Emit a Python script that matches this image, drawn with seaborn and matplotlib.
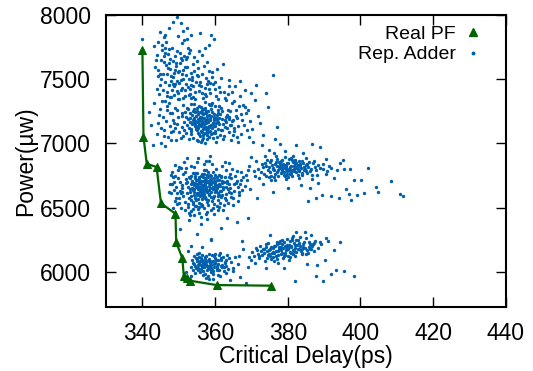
import matplotlib
matplotlib.use("Agg")
import matplotlib.pyplot as plt
import pandas as pd
import seaborn as sns
from matplotlib.lines import Line2D

# ---------------- data ----------------
pf_delay = [340.0, 340.3, 341.2, 343.9, 345.1, 349.1, 349.3, 351.0, 351.4, 352.2, 353.1, 360.4, 375.5]
pf_power = [7727, 7049, 6841, 6815, 6534, 6451, 6229, 6104, 5963, 5953, 5930, 5896, 5891]

cluster_upper_core = [(356.2,7142),(358.9,7210),(353.4,7095),(360.7,7168),(355.1,7251),(357.8,7033),(352.6,7188),(361.9,7102),(354.3,7305),(359.4,7077),(356.8,7266),(350.9,7130),(363.2,7219),(357.1,7001),(355.7,7174),(358.3,7128),(353.9,7042),(360.1,7289),(362.4,7061),(354.8,7213),(357.5,7156),(351.7,7247),(359.8,7184),(356.4,7088),(361.3,7232),(355.2,7019),(358.6,7301),(353.1,7163),(364.1,7145),(357.9,7107),(354.6,7136),(360.4,7051),(352.3,7279),(356.9,7198),(359.1,7243),(355.5,7071),(362.8,7181),(357.3,7322),(351.2,7056),(358.1,7169),(353.7,7221),(360.9,7114),(356.1,7009),(354.1,7264),(359.6,7137),(357.6,7255),(363.7,7092),(355.9,7186),(352.8,7118),(361.6,7273),(358.4,7048),(356.6,7229),(354.4,7172),(360.2,7199),(357.2,7083),(353.3,7310),(359.3,7158),(355.3,7122),(362.1,7036),(358.8,7271),(351.9,7204),(356.3,7160),(361.1,7151),(354.9,7027),(357.7,7191),(359.9,7093),(353.6,7147),(363.5,7258),(356.7,7111),(355.6,7294),(360.6,7224),(358.2,7139),(352.1,7080),(357.4,7238),(354.2,7196),(361.4,7067),(356.5,7177),(359.2,7315),(355.8,7054),(358.7,7181),(353.8,7253),(362.6,7126),(357.0,7148),(360.3,7012),(354.7,7109),(356.0,7283),(351.4,7166),(359.7,7206),(358.5,7099),(355.4,7230),(361.8,7187),(357.8,7064),(353.2,7200),(356.9,7131),(364.6,7175),(355.0,7167),(360.8,7262),(358.0,7118),(352.4,7143),(357.3,7277),(359.5,7045),(354.5,7246),(356.2,7094),(362.9,7209),(355.6,7153),(358.4,7224),(353.5,7072),(360.0,7134),(357.6,7183),(351.0,7212),(356.8,7040),(359.0,7297),(354.0,7159),(361.5,7104),(357.1,7240),(355.3,7190),(358.9,7076),(363.0,7168),(356.4,7257),(352.9,7031),(360.5,7179),(357.9,7212),(354.8,7125),(359.4,7162),(356.0,7135),(361.2,7293),(355.8,7204),(358.1,7087),(353.0,7236),(357.5,7115),(360.7,7240),(356.6,7068),(354.3,7180),(362.3,7150),(358.6,7196),(355.1,7101),(359.8,7227),(357.2,7171),(352.5,7265),(356.1,7209),(360.1,7078),(354.6,7152),(358.3,7304),(365.2,7121),(357.4,7129),(355.9,7241),(361.0,7201),(353.4,7115),(358.0,7250),(356.3,7024),(359.6,7186),(354.9,7274),(357.7,7097),(362.0,7255),(355.4,7137),(360.2,7157),(356.7,7195),(358.8,7146),(353.9,7182),(357.0,7268),(363.8,7202),(355.2,7082),(359.1,7119),(356.5,7233)]

cluster_upper_top = [(348.2,7412),(353.5,7356),(345.7,7538),(356.1,7447),(350.4,7623),(343.9,7689),(352.8,7501),(358.7,7392),(347.3,7734),(351.6,7368),(355.2,7584),(349.0,7462),(346.5,7611),(354.4,7345),(350.9,7780),(357.6,7510),(344.8,7452),(352.1,7659),(348.8,7547),(360.3,7371),(353.0,7426),(346.1,7703),(349.7,7395),(355.8,7476),(351.2,7569),(343.4,7592),(347.9,7488),(353.8,7620),(350.1,7345),(345.3,7765),(357.1,7433),(352.5,7741),(348.5,7642),(354.9,7531),(346.9,7403),(351.9,7463),(359.2,7552),(349.4,7716),(344.2,7521),(353.2,7384),(347.6,7580),(356.6,7357),(350.6,7495),(345.0,7652),(352.3,7597),(348.0,7359),(354.1,7672),(351.4,7809),(346.2,7477),(357.9,7461),(349.9,7555),(343.1,7760),(353.6,7519),(347.1,7698),(355.5,7411),(350.8,7432),(344.6,7381),(352.7,7707),(348.3,7460),(361.1,7438),(351.0,7651),(346.7,7544),(354.6,7398),(349.2,7605),(345.5,7726),(352.0,7530),(356.9,7599),(348.6,7376),(350.3,7707),(353.3,7458),(347.4,7627),(344.4,7575),(351.7,7413),(355.0,7641),(349.6,7488),(346.4,7790),(358.3,7422),(350.0,7561),(352.9,7375),(347.8,7523),(345.8,7412),(354.3,7563),(349.1,7683),(351.3,7503),(356.3,7390),(348.1,7746),(353.9,7444),(346.0,7635),(350.7,7414),(343.7,7648),(352.2,7669),(347.2,7456),(355.4,7527),(349.8,7346),(351.8,7593),(345.2,7500),(357.4,7366),(348.9,7571),(353.1,7729),(346.8,7367),(350.5,7666),(354.7,7480),(352.6,7436),(344.9,7544),(349.3,7629),(358.0,7487),(347.5,7661),(351.1,7357),(355.7,7453),(348.4,7520),(353.4,7550),(346.3,7739),(350.2,7470),(362.5,7403),(352.4,7815),(347.0,7588),(345.9,7683),(354.0,7361),(349.5,7406),(356.4,7542),(351.5,7682),(348.7,7445),(353.7,7492),(344.1,7420),(350.8,7540),(359.5,7463),(347.7,7363),
    (349.4,7982),(348.3,7948),(340.0,7810),(344.8,7870),(344.4,7792),(352.2,7896),(353.4,7844),(358.8,7844),(358.4,7766),(351.3,7873),(346.2,7841),(355.9,7862),(349.9,7836),(347.4,7901),(350.7,7935),(359.6,7815),(345.9,7827)]

cluster_upper_edges = [(343.2,7312),(345.6,7205),(342.5,7146),(347.1,7052),(344.8,7268),(348.3,7183),(346.0,7101),(341.9,7241),(349.2,7026),(343.9,7069),(346.7,7294),(348.9,7121),(345.1,7003),(342.8,6989),(347.7,7234),(344.2,7160),(349.6,7263),(346.3,6978),(348.0,7089),(345.4,7327),
    (364.7,7312),(367.2,7228),(369.8,7393),(366.1,7051),(372.4,7158),(365.5,7447),(368.9,7106),(374.6,7283),(366.8,7366),(370.5,7011),(363.9,7491),(371.8,7210),(367.7,7302),(375.8,7532),(365.0,7178),(369.1,7257),(373.3,7068),(364.3,7023),(368.3,7419),(376.9,7124),(366.4,7137),(370.9,7339),(365.8,7262),(372.8,6987),(367.5,7182),(363.6,7385),(371.2,7456),(369.4,7051),(366.9,7482),(374.1,7391)]

cluster_upper_fill = [(346.4,7173),(348.1,7236),(350.2,7089),(347.3,7312),(349.5,7150),(345.2,7119),(351.1,7300),(347.9,7025),(349.9,7207),(346.8,7258),(350.6,7044),(348.6,7160),(344.6,7221),(351.5,7103),(347.6,7137),(349.1,7279),(345.9,7057),(350.8,7239),(348.4,7096),(346.1,7331),
    (363.4,7117),(365.7,7215),(364.9,7062),(366.6,7291),(363.1,7336),(367.9,7146),(365.3,7096),(368.5,7238),(364.0,7250),(366.3,7008),(369.6,7172),(363.8,7189),(367.1,7071),(365.1,7327),(370.2,7108),(364.5,7140),(368.1,7281),(366.0,7199),
    (357.2,7386),(359.9,7425),(361.6,7512),(358.5,7468),(362.8,7356),(360.5,7577),(357.8,7631),(363.9,7445),(359.1,7519),(356.5,7689),(361.3,7402),(358.2,7563),(360.8,7344),(364.6,7398),(357.3,7742),(362.1,7620),(355.6,7718),(360.0,7475)]

cluster_mid_core = [(357.3,6672),(354.8,6711),(360.2,6634),(356.1,6598),(362.4,6702),(353.7,6655),(358.9,6748),(355.4,6569),(361.1,6681),(357.8,6620),(352.9,6735),(359.6,6590),(356.6,6704),(363.5,6647),(354.2,6623),(358.1,6779),(360.8,6556),(355.9,6658),(357.1,6727),(353.3,6588),(361.7,6741),(356.4,6642),(359.2,6699),(354.5,6766),(362.9,6609),(357.6,6565),(355.1,6686),(360.5,6715),(352.4,6697),(358.4,6636),(356.9,6792),(363.9,6683),(354.0,6543),(359.9,6664),(357.0,6604),(355.6,6740),(361.4,6628),(353.1,6618),(358.7,6693),(356.2,6531),(360.0,6757),(354.9,6679),(362.1,6662),(357.4,6716),(355.3,6613),(359.4,6576),(352.6,6662),(358.0,6703),(364.4,6727),(356.7,6668),(361.0,6595),(354.4,6730),(357.9,6545),(355.8,6632),(360.3,6676),(353.6,6704),(359.0,6620),(356.3,6761),(362.6,6572),(358.6,6654),(355.0,6597),(357.2,6689),(361.8,6707),(354.1,6642),(359.7,6733),(356.8,6573),(353.9,6772),(360.6,6649),(357.5,6638),(355.5,6702),(363.2,6691),(358.3,6596),(352.2,6613),(356.0,6680),(359.3,6777),(354.7,6557),(361.3,6665),(357.7,6751),(355.2,6646),(360.9,6611),(353.4,6684),(358.8,6723),(356.5,6617),(362.8,6739),(354.6,6694),(359.8,6643),(357.3,6582),(355.7,6720),(361.6,6583),(353.0,6727),(358.2,6670),(356.9,6644),(360.1,6701),(354.3,6599),(363.7,6624),(357.0,6761),(355.4,6663),(359.1,6552),(352.7,6576),(358.5,6715),(356.1,6706),(361.9,6689),(354.8,6658),(357.8,6627),(360.4,6739),(355.9,6587),(353.8,6639),(359.5,6697),(356.6,6735),(362.3,6643),(358.0,6562),(354.0,6691),(357.4,6649),(360.7,6587),(355.1,6770),(356.3,6618),(361.2,6717),(353.5,6561),(358.9,6681),(357.1,6703),(359.9,6619),(354.5,6745),(363.0,6663),(356.0,6654),(355.6,6537),(360.0,6687),(357.6,6796),(352.1,6723),(358.4,6605),(356.8,6677),(361.5,6744),(354.9,6615),(359.3,6661),(357.2,6733),(355.3,6685),(362.0,6597),(353.2,6644),(358.7,6755),(356.4,6569),(360.3,6632),(357.9,6698),(354.2,6672),(359.6,6710),(355.8,6653),(361.6,6629),(356.7,6600),(358.1,6739),(353.7,6696),(363.3,6706),(357.0,6627),(355.0,6716),(359.0,6584),(356.2,6748),(360.8,6670),(354.6,6578),(358.3,6692),(357.5,6662),(361.0,6752),(355.5,6607),(353.3,6749),(359.4,6641)]

cluster_mid_edges = [(349.2,6663),(351.4,6852),(348.3,6741),(364.8,6523),(350.6,6498),(366.1,6781),(352.3,6884),(347.9,6612),(355.7,6461),(362.7,6857),(350.1,6577),(358.6,6903),(365.3,6632),(353.4,6472),(349.7,6789),(360.9,6477),(351.8,6541),(367.2,6712),(356.9,6836),(348.6,6700),(363.6,6536),(354.1,6817),(350.4,6626),(359.8,6452),(352.6,6502),(366.7,6599),(357.4,6866),(349.9,6728),(361.8,6823),(353.0,6442),(364.2,6765),(351.0,6621),(355.3,6885),(348.9,6554),(362.2,6483),(357.0,6496),(350.7,6806),(365.8,6688),(352.9,6461),(359.1,6841),(347.5,6682),(354.6,6508),(360.5,6511),(351.3,6760),(363.1,6791),(356.2,6429),(349.4,6611),(358.3,6865),(353.8,6527),(366.4,6662),(350.0,6534),(361.4,6538),(355.0,6852),(348.1,6778),(357.8,6468),(352.0,6808),(364.5,6583),(359.4,6498),(353.5,6824),(351.6,6478),(362.9,6560),(356.5,6512),(349.0,6834),(360.2,6802),(354.3,6445),(367.8,6741),(350.9,6678),(358.0,6517),(363.9,6850),(355.5,6502),
    (353.9,6489),(356.3,6521),(358.8,6483),(361.0,6502),(354.7,6515),(357.5,6453),(359.7,6530),(355.2,6486),(362.5,6517),(352.5,6530),
    (352.8,6402),(359.0,6255),(356.1,6371),(363.3,6418),(350.4,6335),(365.9,6384),(354.9,6297),(369.1,6420),(361.6,6340),(357.7,6409)]

cluster_mid_fill = [(348.7,6635),(350.3,6702),(347.8,6751),(351.2,6588),(349.6,6525),(350.8,6654),(348.2,6684),(351.7,6779),(349.3,6571),(350.0,6818),(347.2,6624),(351.9,6690),(349.0,6743),(350.5,6613),(348.5,6500),
    (364.1,6652),(366.0,6706),(365.0,6571),(367.4,6640),(364.7,6801),(366.9,6687),(365.6,6748),(368.3,6670),(364.3,6612),(366.2,6547),(367.0,6776),(365.2,6680),(368.8,6718),(363.8,6741),(366.5,6621)]

cluster_right = [(379.6,6812),(382.3,6845),(376.1,6790),(384.7,6803),(378.2,6861),(381.0,6768),(373.9,6827),(386.1,6782),(380.4,6879),(377.3,6748),(383.5,6822),(375.2,6858),(379.0,6775),(385.3,6836),(381.8,6800),(374.6,6794),(378.7,6838),(387.4,6814),(382.9,6753),(376.8,6903),(380.8,6827),(372.5,6773),(384.0,6866),(379.3,6744),(377.7,6815),(383.1,6789),(375.7,6832),(381.4,6856),(386.8,6757),(378.5,6796),(374.3,6869),(382.6,6818),(380.1,6735),(376.4,6764),(385.8,6851),(379.8,6849),(373.1,6812),(383.8,6771),(377.0,6881),(381.2,6792),(388.2,6828),(375.5,6743),(379.5,6829),(382.0,6874),(378.0,6769),(384.4,6815),(376.6,6840),(380.6,6761),(374.0,6746),(383.3,6841),(377.9,6806),(381.6,6823),(386.4,6801),(379.1,6891),(375.9,6803),(382.4,6778),(378.9,6752),(373.6,6844),(385.0,6787),(380.3,6803),(376.9,6824),(383.9,6756),(379.7,6787),(371.9,6801),(381.9,6838),(377.5,6857),(384.9,6829),(378.4,6783),(382.7,6799),(375.0,6779),(380.0,6846),(387.9,6790),(376.3,6735),(383.0,6862),(379.2,6820),(374.8,6815),(381.3,6745),(385.6,6817),(377.8,6841),(380.7,6784),(373.4,6759),(382.2,6810),(378.3,6874),(384.2,6843),(376.0,6810),(379.9,6765),(386.9,6845),(381.1,6873),(375.4,6871),(383.6,6805),(377.1,6777),(380.5,6818),(388.9,6808),(378.8,6808),(382.8,6832),(374.9,6737),(381.7,6781),(376.7,6851),(385.2,6770),(379.4,6798),(372.8,6838),(383.2,6783),(377.4,6791),(380.9,6889),(384.6,6796),(378.1,6823),(376.5,6718),(382.1,6860),(370.8,6786),(379.0,6833),
    (369.4,6822),(371.3,6860),(368.6,6755),(370.0,6890),(372.2,6731),(389.6,6842),(390.8,6788),(387.2,6866),(391.9,6809),(373.8,6905),(376.2,6926),(385.1,6884),(388.0,6752),(371.0,6745),(369.0,6795),(386.6,6725),(383.1,6730),(379.6,6725),(375.3,6712),(381.5,6905),
    (402.0,6805),(408.5,6705),(410.8,6609),(411.7,6590),(404.7,6620),(404.4,6659),(400.9,6615),(400.2,6716),(398.1,6716),(399.0,6594),(397.5,6555),(396.8,6607),(396.1,6646),(394.1,6573),(392.0,6586),(389.3,6599),(385.6,6547),(387.9,6576),(395.6,6797),(397.0,6802),(395.2,6867),(394.5,6846),(390.6,6875),(389.0,6971),(386.8,6997),(382.4,6990),(379.2,6940),(376.4,7037),(377.8,6997),(390.5,6760),(392.6,6733),(388.4,6688),(391.3,6822),(386.2,6652),(383.6,6678),(380.1,6655),(376.0,6623),(373.2,6680),(371.5,6574),(369.7,6644),(393.5,6795),(389.8,6803),(384.1,6921),(374.7,6952)]

cluster_low_left = [(358.4,6041),(356.1,6083),(361.2,6012),(354.7,6027),(359.9,6105),(357.3,5986),(362.8,6064),(355.5,6117),(360.4,6048),(358.0,5963),(356.9,6072),(363.6,6021),(354.2,6061),(359.2,6133),(357.7,6016),(361.7,6089),(355.9,5998),(358.8,6078),(360.9,5975),(353.6,6092),(357.0,6049),(362.2,6118),(356.3,6035),(359.5,6002),(354.9,6141),(361.5,6043),(358.2,6099),(355.2,6056),(363.1,5991),(357.5,6124),(360.1,6069),(356.6,5975),(359.0,6054),(353.9,6010),(362.5,6036),(357.9,6087),(355.7,6068),(361.0,6128),(358.6,6018),(356.0,6107),(364.3,6072),(359.7,6038),(354.4,5989),(357.2,6096),(360.6,6014),(355.3,6032),(362.0,6054),(358.3,6141),(356.8,6008),(359.3,6082),(354.0,6071),(361.3,5968),(357.6,6059),(355.0,6099),(363.8,6103),(358.9,5994),(356.5,6127),(360.3,6091),(354.6,6045),(357.4,5954),(362.7,6079),(359.6,6121),(355.8,6080),(358.1,6028),(361.8,6035),(356.2,6051),(364.8,6026),(357.1,6114),(360.7,6059),(353.3,6038),(359.1,6012),(356.4,6089),(362.4,6003),(358.5,6066),(355.4,6010),(360.0,6137),(357.8,6042),(363.4,6134),(354.8,6108),(359.4,5980),(356.7,6065),(361.6,6107),(358.7,6086),(355.6,6145),(360.5,6026),(357.0,6033),(365.5,6112),(359.8,6063),(353.5,5965),(362.9,6091),(356.0,6020),(358.2,5944),(366.3,6058),(354.3,6124),(360.8,6094),(357.3,6076),(361.4,6148),(355.1,6084),(359.0,6026),(363.0,6047),
    (359.5,5943),(368.6,5909),(381.9,5930),(359.0,6248),(353.5,6203),(352.6,6160),(366.9,5958),(364.1,5932),(356.3,6193),(352.1,6001),(367.7,6174),(365.0,6004)]

cluster_low_right = [(377.4,6158),(380.2,6187),(374.6,6132),(383.5,6203),(378.9,6124),(372.1,6105),(381.6,6226),(376.0,6181),(385.3,6167),(379.7,6209),(373.4,6146),(382.4,6152),(369.8,6090),(377.9,6243),(384.6,6234),(375.3,6099),(380.9,6143),(378.2,6195),(386.7,6201),(371.5,6167),(383.0,6178),(376.7,6120),(381.2,6262),(374.0,6192),(379.4,6167),(387.6,6242),(372.8,6131),(382.9,6245),(377.1,6214),(385.0,6140),(375.8,6154),(380.6,6116),(370.6,6122),(384.1,6191),(378.5,6148),(373.9,6216),(381.9,6205),(376.3,6087),(388.3,6186),(379.0,6229),(374.9,6168),(383.8,6148),(377.6,6179),(371.1,6068),(386.0,6219),(380.0,6174),(375.0,6124),(382.1,6187),(378.7,6107),(384.9,6259),(373.1,6180),(379.9,6252),(376.5,6200),(387.1,6164),(381.4,6138),(370.2,6150),(377.2,6131),(383.2,6225),(374.3,6108),(380.4,6207),(385.8,6194),(378.1,6170),(372.4,6198),(382.7,6173),(376.9,6234),(389.2,6215),(379.2,6127),(375.6,6144),(384.3,6212),(381.0,6196),(373.7,6085),(386.3,6180),(377.7,6192),(380.7,6155),(371.8,6137),(383.6,6159),(378.4,6219),(375.2,6177),(388.8,6233),(382.3,6246),(376.1,6144),(379.6,6189),(374.5,6222),(385.5,6149),(381.5,6172),(377.0,6101),(384.0,6173),(372.7,6159),(380.5,6238),(378.0,6135),(386.5,6205),(374.8,6140),(382.0,6122),(376.8,6163),(379.3,6203),(369.3,6114),(383.4,6267),(377.5,6222),(381.8,6158),(375.9,6112),(387.3,6223),(380.1,6125),(373.5,6174),(378.6,6182),(384.8,6186),(376.2,6201),(382.6,6210),(371.3,6183),(379.1,6147),(385.9,6232),(374.2,6161),(381.1,6248),(377.3,6066),(383.9,6135),(380.8,6199),(375.4,6195),(386.1,6175),(378.3,6246),(372.2,6121),
    (387.9,5969),(389.7,5930),(392.0,5982),(393.4,6013),(395.6,6008),(398.1,5969),(391.1,6237),(394.5,6229),(387.0,6216),(375.0,6289),(382.4,6307),(384.7,6307),(381.5,6281),(390.3,6095),(388.1,6051),(385.2,6060),(392.7,6171),(369.0,6040),(367.5,6238),(378.9,6031),(374.1,6032),(390.5,6262),(386.4,6288),(380.3,6090),(366.6,6125)]

x_ticks = [340, 360, 380, 400, 420, 440]
y_ticks = [6000, 6500, 7000, 7500, 8000]

# ---------------- figure ----------------
sns.set_style("ticks")
plt.rcParams["font.family"] = ["Liberation Sans", "DejaVu Sans"]

points = (cluster_upper_core + cluster_upper_top + cluster_upper_edges + cluster_upper_fill
          + cluster_mid_core + cluster_mid_edges + cluster_mid_fill + cluster_right
          + cluster_low_left + cluster_low_right)
adder = pd.DataFrame(points, columns=["delay", "power"])
pf = pd.DataFrame({"delay": pf_delay, "power": pf_power})

fig, ax = plt.subplots(figsize=(5.33, 3.71), dpi=100)
fig.subplots_adjust(left=0.199, right=0.949, bottom=0.1725, top=0.9596)

blue = "#0060ad"
green = "#006400"
sns.scatterplot(data=adder, x="delay", y="power", ax=ax, color=blue, s=6,
                marker="o", linewidth=0, legend=False, zorder=2)
sns.lineplot(data=pf, x="delay", y="power", ax=ax, color=green, lw=1.6,
             marker="^", markersize=6, markeredgecolor=green, sort=False,
             legend=False, zorder=3)

ax.set_xlim(330, 440)
ax.set_ylim(5725, 8000)
ax.set_xticks(x_ticks)
ax.set_yticks(y_ticks)
ax.tick_params(direction="in", length=7, width=1, top=True, right=True,
               labelsize=16.5, pad=11, colors="black")
for sp in ax.spines.values():
    sp.set_linewidth(1.5)
    sp.set_color("black")
ax.set_xlabel("Critical Delay(ps)", fontsize=16.5, labelpad=0, color="black")
ax.set_ylabel("Power(\u00b5w)", fontsize=16.5, labelpad=2, color="black")

handles = [Line2D([], [], color=green, marker="^", ls="none", markersize=6),
           Line2D([], [], color=blue, marker="o", ls="none", markersize=1.8)]
ax.legend(handles, ["Real PF", "Rep. Adder"], loc="upper right",
          bbox_to_anchor=(0.985, 1.025), frameon=False, markerfirst=False,
          fontsize=14, handlelength=1.0, handletextpad=0.35, labelspacing=0.15,
          labelcolor="black")

fig.savefig("out.png", dpi=100)
